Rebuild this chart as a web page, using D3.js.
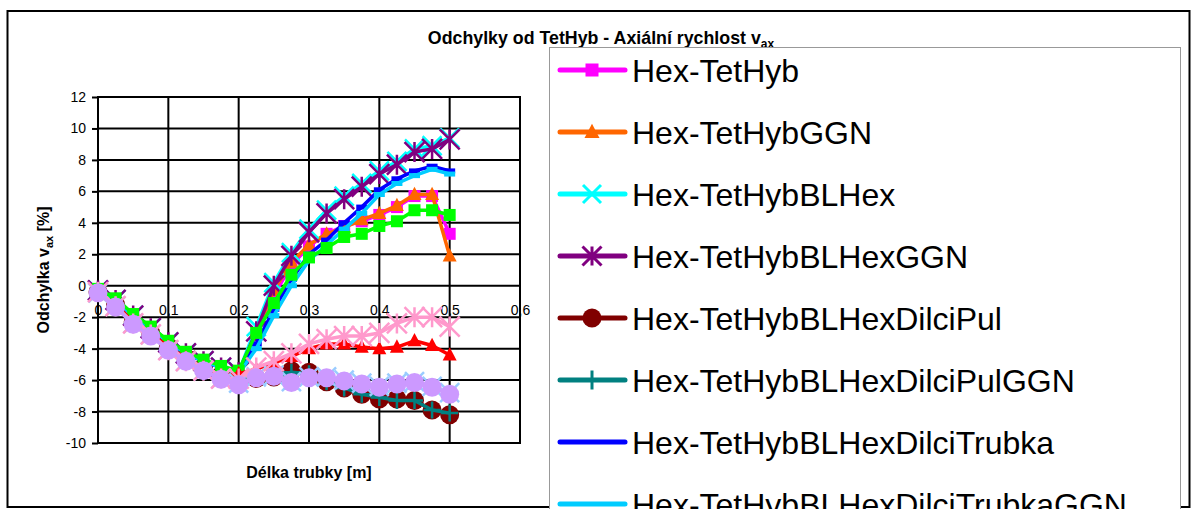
<!DOCTYPE html>
<html><head><meta charset="utf-8">
<script src="https://cdn.jsdelivr.net/npm/d3@7"></script>
<style>body{margin:0;background:#fff;overflow:hidden} svg{display:block}</style>
</head><body><svg id="c" width="1192" height="509"></svg>
<script>
// ---------- data ----------
const xValues = [0, 0.025, 0.05, 0.075, 0.1, 0.125, 0.15, 0.175, 0.2, 0.225, 0.25, 0.275, 0.3, 0.325, 0.35, 0.375, 0.4, 0.425, 0.45, 0.475, 0.5];
const yTicks = [-10, -8, -6, -4, -2, 0, 2, 4, 6, 8, 10, 12];
const yTickLabels = ["-10", "-8", "-6", "-4", "-2", "0", "2", "4", "6", "8", "10", "12"];
const xTicks = [0, 0.1, 0.2, 0.3, 0.4, 0.5, 0.6];
const xTickLabels = ["0", "0,1", "0,2", "0,3", "0,4", "0,5", "0,6"];

const seriesNames = ["Hex-TetHyb", "Hex-TetHybGGN", "Hex-TetHybBLHex", "Hex-TetHybBLHexGGN",
  "Hex-TetHybBLHexDilciPul", "Hex-TetHybBLHexDilciPulGGN", "Hex-TetHybBLHexDilciTrubka",
  "Hex-TetHybBLHexDilciTrubkaGGN", "", "", "", "", ""];
const seriesColors = ["#FF00FF", "#FF6600", "#00FFFF", "#800080", "#800000", "#008080", "#0000FF",
  "#00CCFF", "#00FF00", "#FF0000", "#99CCFF", "#FF99CC", "#CC99FF"];
const seriesMarkers = ["square", "triangle", "x", "asterisk", "circle", "plus", "dash", "dash",
  "square", "triangle", "x", "asterisk", "circle"];

const sHexTetHyb      = [-0.3,-0.9,-1.9,-2.7,-3.6,-4.3,-4.8,-5.2,-5.5,-3.1,-0.6,1.3,2.5,3.3,3.8,4.1,4.5,5.0,5.7,5.7,3.3];
const sHexTetHybGGN   = [-0.3,-0.9,-1.9,-2.7,-3.6,-4.3,-4.8,-5.2,-5.5,-2.9,-0.3,1.5,2.6,3.3,3.7,4.2,4.6,5.1,5.8,5.8,1.9];
const sBLHex          = [-0.3,-0.9,-1.9,-2.7,-3.6,-4.3,-4.8,-5.2,-5.5,-2.6,0.2,2.1,3.6,4.8,5.7,6.5,7.3,7.9,8.7,8.9,9.4];
const sBLHexGGN       = [-0.3,-0.9,-1.9,-2.7,-3.6,-4.3,-4.8,-5.2,-5.5,-2.9,0.0,1.9,3.4,4.6,5.5,6.3,7.1,7.7,8.5,8.7,9.3];
const sDilciPul       = [-0.4,-1.2,-2.3,-3.0,-3.9,-4.6,-5.2,-5.7,-6.0,-5.9,-5.8,-5.4,-5.5,-6.1,-6.5,-6.9,-7.2,-7.2,-7.3,-7.9,-8.2];
const sDilciPulGGN    = [-0.4,-1.2,-2.3,-3.0,-3.9,-4.6,-5.2,-5.7,-6.0,-5.9,-5.8,-5.5,-5.6,-6.1,-6.5,-6.9,-7.1,-7.3,-7.3,-7.9,-8.1];
const sDilciTrubka    = [-0.3,-0.9,-1.9,-2.7,-3.6,-4.3,-4.8,-5.2,-5.5,-3.7,-1.5,0.4,2.0,2.9,4.0,5.0,6.1,6.8,7.3,7.6,7.3];
const sDilciTrubkaGGN = [-0.3,-0.9,-1.9,-2.7,-3.6,-4.3,-4.8,-5.2,-5.6,-4.0,-1.9,0.0,1.6,2.6,3.6,4.6,5.8,6.5,7.0,7.4,7.1];
const sSeries9        = [-0.2,-0.8,-1.8,-2.6,-3.5,-4.2,-4.7,-5.1,-5.4,-3.0,-1.1,0.7,1.8,2.4,3.1,3.3,3.8,4.1,4.8,4.8,4.5];
const sSeries10       = [-0.4,-1.2,-2.3,-3.0,-3.9,-4.6,-5.2,-5.7,-5.6,-5.3,-4.9,-4.5,-4.0,-3.7,-3.7,-3.9,-4.0,-3.9,-3.5,-3.8,-4.4];
const sSeries11       = [-0.45,-1.3,-2.4,-3.1,-4.1,-4.8,-5.4,-5.9,-6.2,-5.8,-5.7,-6.1,-5.8,-5.8,-6.0,-6.2,-6.4,-6.2,-6.1,-6.4,-6.8];
const sSeries12       = [-0.4,-1.3,-2.4,-3.1,-4.1,-4.8,-5.4,-5.9,-5.9,-5.2,-4.8,-4.3,-3.7,-3.4,-3.2,-3.2,-3.0,-2.4,-2.0,-2.0,-2.6];
const sSeries13       = [-0.45,-1.35,-2.45,-3.2,-4.1,-4.8,-5.4,-5.95,-6.3,-5.85,-5.75,-6.15,-5.85,-5.85,-6.05,-6.25,-6.45,-6.25,-6.15,-6.45,-6.9];

const seriesValues = [sHexTetHyb, sHexTetHybGGN, sBLHex, sBLHexGGN, sDilciPul, sDilciPulGGN,
  sDilciTrubka, sDilciTrubkaGGN, sSeries9, sSeries10, sSeries11, sSeries12, sSeries13];

// ---------- drawing ----------
const FONT = "'Liberation Sans', Arial, sans-serif";
const svg = d3.select("#c");
svg.append("rect").attr("x", 0).attr("y", 0).attr("width", 1192).attr("height", 509).attr("fill", "#fff");
// chart area border
svg.append("rect").attr("x", 7.5).attr("y", 11).attr("width", 1182).attr("height", 496)
  .attr("fill", "#fff").attr("stroke", "#000").attr("stroke-width", 2);

const x = d3.scaleLinear().domain([0, 0.6]).range([98, 520]);
const y = d3.scaleLinear().domain([-10, 12]).range([443, 97]);

// title
const title = svg.append("text").attr("x", 601).attr("y", 44).attr("text-anchor", "middle")
  .attr("font-family", FONT).attr("font-weight", "bold").attr("font-size", 17.8).attr("fill", "#000");
title.append("tspan").text("Odchylky od TetHyb - Axiální rychlost v");
title.append("tspan").attr("font-size", 12).attr("dy", 4).text("ax");

// x axis labels (at y=0), drawn before gridlines
const xAxis = d3.axisBottom(x).tickValues(xTicks).tickSize(0).tickPadding(19)
  .tickFormat((d, i) => xTickLabels[i]);
const gx = svg.append("g").attr("transform", `translate(0,${y(0)})`).call(xAxis);
gx.select(".domain").remove();
gx.selectAll("text").attr("font-family", FONT).attr("font-size", 14).attr("fill", "#000");

// y axis
const yAxis = d3.axisLeft(y).tickValues(yTicks).tickSize(6).tickPadding(6)
  .tickFormat((d, i) => yTickLabels[i]);
const gy = svg.append("g").attr("transform", `translate(${x(0)},0)`).call(yAxis);
gy.select(".domain").remove();
gy.selectAll("line").attr("stroke", "#000").attr("stroke-width", 2);
gy.selectAll("text").attr("font-family", FONT).attr("font-size", 14).attr("fill", "#000");

// gridlines
const grid = svg.append("g");
grid.selectAll(".hg").data(yTicks).join("line")
  .attr("x1", x(0)).attr("x2", x(0.6)).attr("y1", d => y(d)).attr("y2", d => y(d))
  .attr("stroke", "#000").attr("stroke-width", 2);
grid.selectAll(".vg").data(xTicks).join("line")
  .attr("x1", d => x(d)).attr("x2", d => x(d)).attr("y1", y(12) - 1).attr("y2", y(-10) + 1)
  .attr("stroke", "#000").attr("stroke-width", 2);

// axis titles
svg.append("text").attr("x", 309).attr("y", 478).attr("text-anchor", "middle")
  .attr("font-family", FONT).attr("font-weight", "bold").attr("font-size", 16).text("Délka trubky [m]");
const yt = svg.append("text").attr("transform", "translate(49,270) rotate(-90)").attr("text-anchor", "middle")
  .attr("font-family", FONT).attr("font-weight", "bold").attr("font-size", 16);
yt.append("tspan").text("Odchylka v");
yt.append("tspan").attr("font-size", 11).attr("dy", 4).text("ax");
yt.append("tspan").attr("dy", -4).text(" [%]");

// markers
function marker(g, type, color, s, sw) {
  const h = s / 2;
  switch (type) {
    case "square":
      g.append("rect").attr("x", -h).attr("y", -h).attr("width", s).attr("height", s).attr("fill", color);
      break;
    case "triangle":
      g.append("path").attr("d", `M0,${-h * 1.1}L${h},${h * 0.8}L${-h},${h * 0.8}Z`).attr("fill", color);
      break;
    case "circle":
      g.append("circle").attr("r", h).attr("fill", color);
      break;
    case "x":
      g.append("path").attr("d", `M${-h},${-h}L${h},${h}M${-h},${h}L${h},${-h}`).attr("stroke", color).attr("stroke-width", sw);
      break;
    case "asterisk":
      g.append("path").attr("d", `M${-h},${-h}L${h},${h}M${-h},${h}L${h},${-h}M0,${-h}L0,${h}`).attr("stroke", color).attr("stroke-width", sw);
      break;
    case "plus":
      g.append("path").attr("d", `M${-h},0L${h},0M0,${-h}L0,${h}`).attr("stroke", color).attr("stroke-width", sw);
      break;
    case "dash":
      g.append("rect").attr("x", -h).attr("y", -2.5).attr("width", s).attr("height", 5).attr("fill", color);
      break;
  }
}
const plotSize = {square: 12, triangle: 14, x: 19, asterisk: 20, circle: 19, plus: 17, dash: 11};
const plotSw = {x: 2.5, asterisk: 2.5, plus: 2.5};

const line = d3.line().x((d, i) => x(xValues[i])).y(d => y(d));
const plot = svg.append("g");
seriesValues.forEach((vals, si) => {
  const g = plot.append("g");
  g.append("path").datum(vals).attr("d", line).attr("fill", "none")
    .attr("stroke", seriesColors[si]).attr("stroke-width", 3.5).attr("stroke-linejoin", "round");
  vals.forEach((v, i) => {
    const m = g.append("g").attr("transform", `translate(${x(xValues[i])},${y(v)})`);
    marker(m, seriesMarkers[si], seriesColors[si], plotSize[seriesMarkers[si]], plotSw[seriesMarkers[si]] || 2);
  });
});

// legend
const legend = svg.append("g");
legend.append("rect").attr("x", 549.5).attr("y", 47.5).attr("width", 631).attr("height", 600)
  .attr("fill", "#fff").attr("stroke", "#999").attr("stroke-width", 1);
const legSize = {square: 13, triangle: 15, x: 18, asterisk: 19, circle: 19, plus: 19, dash: 0};
seriesNames.forEach((name, i) => {
  if (!name) return;
  const cy = 70 + i * 62;
  const row = legend.append("g").attr("transform", `translate(0,${cy})`);
  row.append("line").attr("x1", 560).attr("x2", 625).attr("y1", 0).attr("y2", 0)
    .attr("stroke", seriesColors[i]).attr("stroke-width", 5).attr("stroke-linecap", "round");
  if (legSize[seriesMarkers[i]]) {
    const m = row.append("g").attr("transform", "translate(592,0)");
    marker(m, seriesMarkers[i], seriesColors[i], legSize[seriesMarkers[i]], 3);
  }
  row.append("text").attr("x", 632).attr("y", 0).attr("dy", "0.36em")
    .attr("font-family", FONT).attr("font-size", 32).attr("fill", "#000").text(name);
});
</script></body></html>
